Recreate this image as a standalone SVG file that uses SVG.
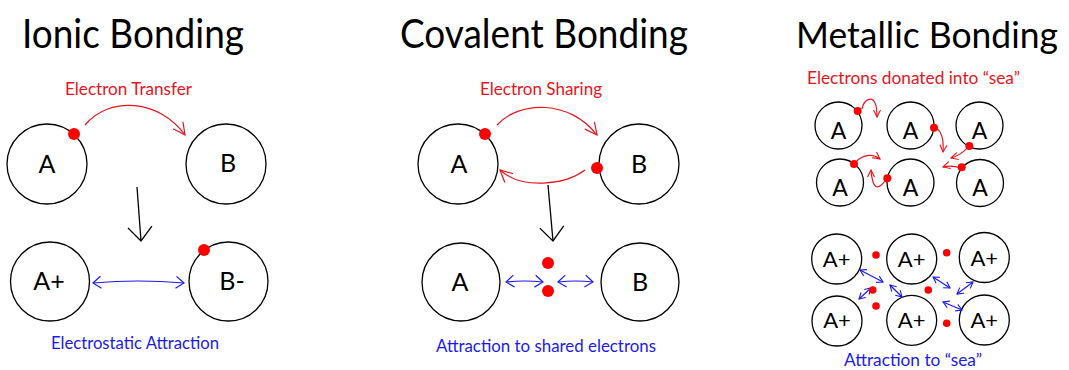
<svg xmlns="http://www.w3.org/2000/svg" width="1069" height="370" viewBox="0 0 1069 370">
<style>
text{font-family:Lato,"Liberation Sans",sans-serif}
.t{font-size:40px;fill:#000}
.lr{font-size:17px;fill:#e8141c}
.lb{font-size:17px;fill:#1a1aee}
.n{fill:#fff;stroke:#000;stroke-width:1.3}
.c{font-size:25px;fill:#000;text-anchor:middle}
.cs{font-size:23px;fill:#000;text-anchor:middle}
.cp{font-size:22px;fill:#000;text-anchor:middle}
.e{fill:#f00}
.ar{fill:none;stroke:#e8141c;stroke-width:1.2}
.ab{fill:none;stroke:#1a1aee;stroke-width:1.2}
.ak{fill:none;stroke:#000;stroke-width:1.3}
</style>
<defs>
<marker id="mr" viewBox="0 0 14 14" refX="13" refY="7" markerWidth="14" markerHeight="14" markerUnits="userSpaceOnUse" orient="auto-start-reverse"><path d="M1,1 L13,7 L1,13" fill="none" stroke="#e8141c" stroke-width="1.2"/></marker>
<marker id="mrs" viewBox="0 0 9 9" refX="8" refY="4.5" markerWidth="9" markerHeight="9" markerUnits="userSpaceOnUse" orient="auto-start-reverse"><path d="M1,1 L8,4.5 L1,8" fill="none" stroke="#e8141c" stroke-width="1.1"/></marker>
<marker id="mk" viewBox="0 0 16 26" refX="15" refY="13" markerWidth="16" markerHeight="26" markerUnits="userSpaceOnUse" orient="auto-start-reverse"><path d="M1,1 L15,13 L1,25" fill="none" stroke="#000" stroke-width="1.3"/></marker>
<marker id="mb" viewBox="0 0 10 14" refX="9" refY="7" markerWidth="10" markerHeight="14" markerUnits="userSpaceOnUse" orient="auto-start-reverse"><path d="M1,1 L9,7 L1,13" fill="none" stroke="#1a1aee" stroke-width="1.2"/></marker>
<marker id="mbs" viewBox="0 0 8 9" refX="7" refY="4.5" markerWidth="8" markerHeight="9" markerUnits="userSpaceOnUse" orient="auto-start-reverse"><path d="M1,1 L7,4.5 L1,8" fill="none" stroke="#1a1aee" stroke-width="1.1"/></marker>
</defs>

<g id="titles">
<text class="t" x="22" y="48" textLength="222" lengthAdjust="spacingAndGlyphs">Ionic Bonding</text>
<text class="t" x="400" y="48" textLength="288" lengthAdjust="spacingAndGlyphs">Covalent Bonding</text>
<text class="t" x="796" y="48" style="font-size:37px" textLength="262" lengthAdjust="spacingAndGlyphs">Metallic Bonding</text>
</g>

<g id="labels">
<text class="lr" x="65" y="95" textLength="127" lengthAdjust="spacingAndGlyphs">Electron Transfer</text>
<text class="lb" x="51" y="349" textLength="168" lengthAdjust="spacingAndGlyphs">Electrostatic Attraction</text>
<text class="lr" x="480" y="95" textLength="122" lengthAdjust="spacingAndGlyphs">Electron Sharing</text>
<text class="lb" x="436" y="352" textLength="220" lengthAdjust="spacingAndGlyphs">Attraction to shared electrons</text>
<text class="lr" x="807" y="84" textLength="213" lengthAdjust="spacingAndGlyphs">Electrons donated into “sea”</text>
<text class="lb" x="844" y="366" textLength="138" lengthAdjust="spacingAndGlyphs">Attraction to “sea”</text>
</g>

<!-- Ionic -->
<g id="ionic-A"><circle class="n" cx="47" cy="164" r="40"/><text class="c" x="47" y="173">A</text></g>
<g id="ionic-B"><circle class="n" cx="226" cy="164" r="40"/><text class="c" x="228" y="172">B</text></g>
<g id="ionic-Aplus"><circle class="n" cx="50" cy="281.5" r="39.5"/><text class="c" x="49" y="290">A+</text></g>
<g id="ionic-Bminus"><circle class="n" cx="228.5" cy="281.5" r="39.5"/><text class="c" x="232" y="290">B-</text></g>

<!-- Covalent -->
<g id="cov-A1"><circle class="n" cx="458" cy="164" r="40"/><text class="c" x="459" y="173">A</text></g>
<g id="cov-B1"><circle class="n" cx="639" cy="164" r="40"/><text class="c" x="639" y="173">B</text></g>
<g id="cov-A2"><circle class="n" cx="461" cy="282" r="39"/><text class="c" x="460" y="291">A</text></g>
<g id="cov-B2"><circle class="n" cx="640" cy="282" r="39"/><text class="c" x="640" y="291">B</text></g>

<!-- Metallic top -->
<g id="met-A1"><circle class="n" cx="838.5" cy="125.5" r="23.5"/><text class="cs" x="838.5" y="139">A</text></g>
<g id="met-A2"><circle class="n" cx="910.5" cy="125.5" r="23.5"/><text class="cs" x="910.5" y="139">A</text></g>
<g id="met-A3"><circle class="n" cx="979.5" cy="125.5" r="23.5"/><text class="cs" x="979.5" y="139">A</text></g>
<g id="met-A4"><circle class="n" cx="840" cy="182.5" r="23.5"/><text class="cs" x="840" y="196">A</text></g>
<g id="met-A5"><circle class="n" cx="910.5" cy="182.5" r="23.5"/><text class="cs" x="910.5" y="196">A</text></g>
<g id="met-A6"><circle class="n" cx="980" cy="183" r="23.5"/><text class="cs" x="980" y="196">A</text></g>

<!-- Metallic bottom -->
<g id="met-P1"><circle class="n" cx="836.7" cy="259" r="25"/><text class="cp" x="836.7" y="267">A+</text></g>
<g id="met-P2"><circle class="n" cx="911.7" cy="259" r="25"/><text class="cp" x="911.7" y="267">A+</text></g>
<g id="met-P3"><circle class="n" cx="984.3" cy="257.5" r="25"/><text class="cp" x="984.3" y="266">A+</text></g>
<g id="met-P4"><circle class="n" cx="837" cy="321" r="25"/><text class="cp" x="837" y="328">A+</text></g>
<g id="met-P5"><circle class="n" cx="911.7" cy="320.3" r="25"/><text class="cp" x="911.7" y="328">A+</text></g>
<g id="met-P6"><circle class="n" cx="984.3" cy="320" r="25"/><text class="cp" x="984.3" y="328">A+</text></g>

<g id="connectors">
<!-- ionic -->
<path class="ar" d="M85,125 C110,95 160,100 185,135" marker-end="url(#mr)"/>
<path class="ak" d="M137,187 L141,241" marker-end="url(#mk)"/>
<path class="ab" d="M93,283 Q138,279 184,283" marker-start="url(#mb)" marker-end="url(#mb)"/>
<!-- covalent -->
<path class="ar" d="M497,125 C520,100 570,100 597,135" marker-end="url(#mr)"/>
<path class="ar" d="M585,170 C565,185 522,190 500,170" marker-end="url(#mr)"/>
<path class="ak" d="M548,185 L553,241" marker-end="url(#mk)"/>
<path class="ab" d="M506,282 Q524,280 543,282" marker-start="url(#mb)" marker-end="url(#mb)"/>
<path class="ab" d="M558,282 Q576,280 593,282" marker-start="url(#mb)" marker-end="url(#mb)"/>
<!-- metallic red -->
<path class="ar" d="M862,109 C864,99 872,96 875,103 C877,107 877,112 877,117" marker-end="url(#mrs)"/>
<path class="ar" d="M936,128 C941,131 944,138 943,152" marker-end="url(#mrs)"/>
<path class="ar" d="M968,147 C964,152 958,156 951,158" marker-end="url(#mrs)"/>
<path class="ar" d="M856,162 C862,155 872,153 880,159" marker-end="url(#mrs)"/>
<path class="ar" d="M887,178 C882,186 876,191 873,182 C872,178 871,174 871,170" marker-end="url(#mrs)"/>
<path class="ar" d="M961,168 C955,166 950,165 943,167" marker-end="url(#mrs)"/>
<!-- metallic blue -->
<path class="ab" d="M860,270 L883,282" marker-start="url(#mbs)" marker-end="url(#mbs)"/>
<path class="ab" d="M859,299 L871,288" marker-start="url(#mbs)" marker-end="url(#mbs)"/>
<path class="ab" d="M890,285 L902,297" marker-start="url(#mbs)" marker-end="url(#mbs)"/>
<path class="ab" d="M933,277 L950,288" marker-start="url(#mbs)" marker-end="url(#mbs)"/>
<path class="ab" d="M957,294 L973,282" marker-start="url(#mbs)" marker-end="url(#mbs)"/>
<path class="ab" d="M943,302 L962,310" marker-start="url(#mbs)" marker-end="url(#mbs)"/>
</g>

<g id="electrons">
<circle class="e" cx="74" cy="134" r="6"/>
<circle class="e" cx="204" cy="250" r="6"/>
<circle class="e" cx="485" cy="134" r="6"/>
<circle class="e" cx="597" cy="168" r="6"/>
<circle class="e" cx="548" cy="263" r="6"/>
<circle class="e" cx="548" cy="291" r="6"/>
<circle class="e" cx="857.7" cy="111" r="4"/>
<circle class="e" cx="934" cy="127.7" r="4"/>
<circle class="e" cx="969.3" cy="146" r="4"/>
<circle class="e" cx="854" cy="164" r="4"/>
<circle class="e" cx="887.3" cy="178.3" r="4"/>
<circle class="e" cx="961.7" cy="167.3" r="4"/>
<circle class="e" cx="876" cy="255" r="3.8"/>
<circle class="e" cx="946.7" cy="252.7" r="3.8"/>
<circle class="e" cx="872.7" cy="290" r="3.8"/>
<circle class="e" cx="876" cy="306" r="3.8"/>
<circle class="e" cx="928.3" cy="290" r="3.8"/>
<circle class="e" cx="946.7" cy="323.3" r="3.8"/>
</g>
</svg>
